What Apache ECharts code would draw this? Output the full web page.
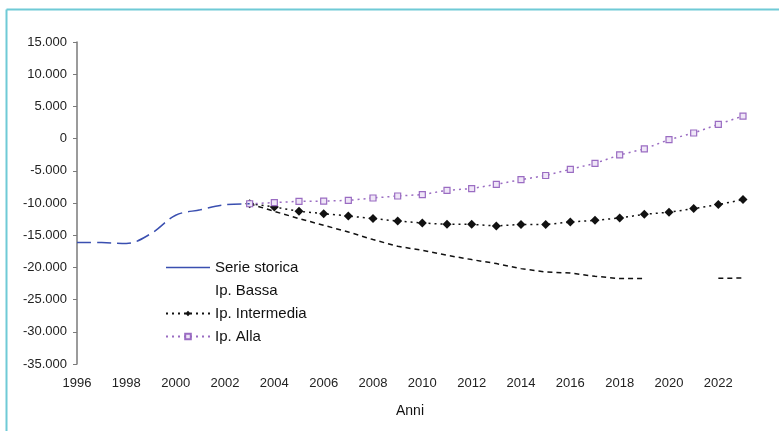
<!DOCTYPE html>
<html>
<head>
<meta charset="utf-8">
<script src="https://cdn.jsdelivr.net/npm/echarts@6/dist/echarts.min.js"></script>
<style>html,body{margin:0;padding:0;background:#fff}#c{width:779px;height:431px}</style>
</head>
<body>
<div id="c"></div>
<script>
const yearsStorica = [1996,1997,1998,1999,2000,2001,2002,2003];
const serieStorica = [-16150,-16150,-16300,-14750,-11900,-11050,-10280,-10120];
const yearsProj = [2003,2004,2005,2006,2007,2008,2009,2010,2011,2012,2013,2014,2015,2016,2017,2018,2019,2020,2021,2022,2023];
const ipBassa = [-10120,-11300,-12420,-13460,-14500,-15680,-16720,-17350,-18120,-18790,-19410,-20190,-20710,-20870,-21380,-21740,-21740,null,null,-21700,-21650];
const ipIntermedia = [-10120,-10620,-11290,-11650,-12020,-12420,-12800,-13100,-13310,-13310,-13570,-13330,-13350,-12950,-12690,-12330,-11750,-11440,-10870,-10250,-9470];
const ipAlta = [-10120,-9940,-9740,-9700,-9600,-9220,-8910,-8700,-8030,-7760,-7100,-6380,-5730,-4770,-3840,-2530,-1600,-160,870,2220,3500];
const seriesNames = ['Serie storica','Ip. Bassa','Ip. Intermedia','Ip. Alla'];

function pairs(xs, ys){ return xs.map((x,i)=>[x, ys[i]]); }
function fmt(v){
  if (v === 0) return '0';
  const s = Math.abs(v).toString().replace(/\B(?=(\d{3})+(?!\d))/g, '.');
  return (v < 0 ? '-' : '') + s;
}
const chart = echarts.init(document.getElementById('c'));
const FONT = 'Liberation Sans';
chart.setOption({
  animation: false,
  backgroundColor: '#fff',
  textStyle: {fontFamily: FONT},
  graphic: [
    {type:'line', shape:{x1:6.5,y1:9.5,x2:779,y2:9.5}, style:{stroke:'#6fcad6', lineWidth:2}},
    {type:'line', shape:{x1:6.5,y1:9.5,x2:6.5,y2:431}, style:{stroke:'#6fcad6', lineWidth:2}}
  ],
  grid: {left: 77, right: 36, top: 42, bottom: 67},
  legend: {
    orient: 'vertical', left: 165, top: 260, padding: 0,
    itemWidth: 44, itemHeight: 7, itemGap: 8,
    textStyle: {fontFamily: FONT, fontSize: 15, color: '#111'},
    data: [
      {name:'Serie storica', itemStyle:{opacity:0}, lineStyle:{type:'solid', width:1.5}},
      {name:'Ip. Bassa', itemStyle:{opacity:0}, lineStyle:{opacity:0}},
      {name:'Ip. Intermedia'},
      {name:'Ip. Alla'}
    ]
  },
  xAxis: {
    type: 'value', min: 1996, max: 2023, interval: 2,
    name: 'Anni', nameLocation: 'middle', nameGap: 40,
    nameTextStyle: {fontFamily: FONT, fontSize: 14, color: '#111'},
    axisLine: {show: false}, axisTick: {show: false}, splitLine: {show: false},
    axisLabel: {fontFamily: FONT, fontSize: 13, color: '#222', margin: 13,
      formatter: v => (v % 2 === 0 ? String(v) : '')}
  },
  yAxis: {
    type: 'value', min: -35000, max: 15000, interval: 5000,
    axisLine: {show: true, lineStyle: {color: '#7a7a7a', width: 1.5}},
    axisTick: {show: true, length: 4, lineStyle: {color: '#7a7a7a'}},
    splitLine: {show: false},
    axisLabel: {fontFamily: FONT, fontSize: 13, color: '#222', margin: 10, formatter: fmt}
  },
  series: [
    {name: seriesNames[0], type: 'line', data: pairs(yearsStorica, serieStorica), smooth: 0.35,
      symbol: 'none', color: '#3a4fb0', lineStyle: {color: '#3a4fb0', width: 1.5, type: [14,6]}, z: 5},
    {name: seriesNames[1], type: 'line', data: pairs(yearsProj, ipBassa), connectNulls: false,
      symbol: 'none', color: '#111', lineStyle: {color: '#111', width: 1.5, type: [5,4]}},
    {name: seriesNames[2], type: 'line', data: pairs(yearsProj, ipIntermedia),
      symbol: 'diamond', symbolSize: 9, color: '#111', itemStyle: {color: '#111'},
      lineStyle: {color: '#111', width: 1.5, type: [2,4]}},
    {name: seriesNames[3], type: 'line', data: pairs(yearsProj, ipAlta),
      symbol: 'rect', symbolSize: 6, color: '#9a6cc2',
      itemStyle: {color: '#efe6f7', borderColor: '#9a6cc2', borderWidth: 1.2},
      lineStyle: {color: '#9a6cc2', width: 1.5, type: [2,4]}}
  ]
});
</script>
</body>
</html>
